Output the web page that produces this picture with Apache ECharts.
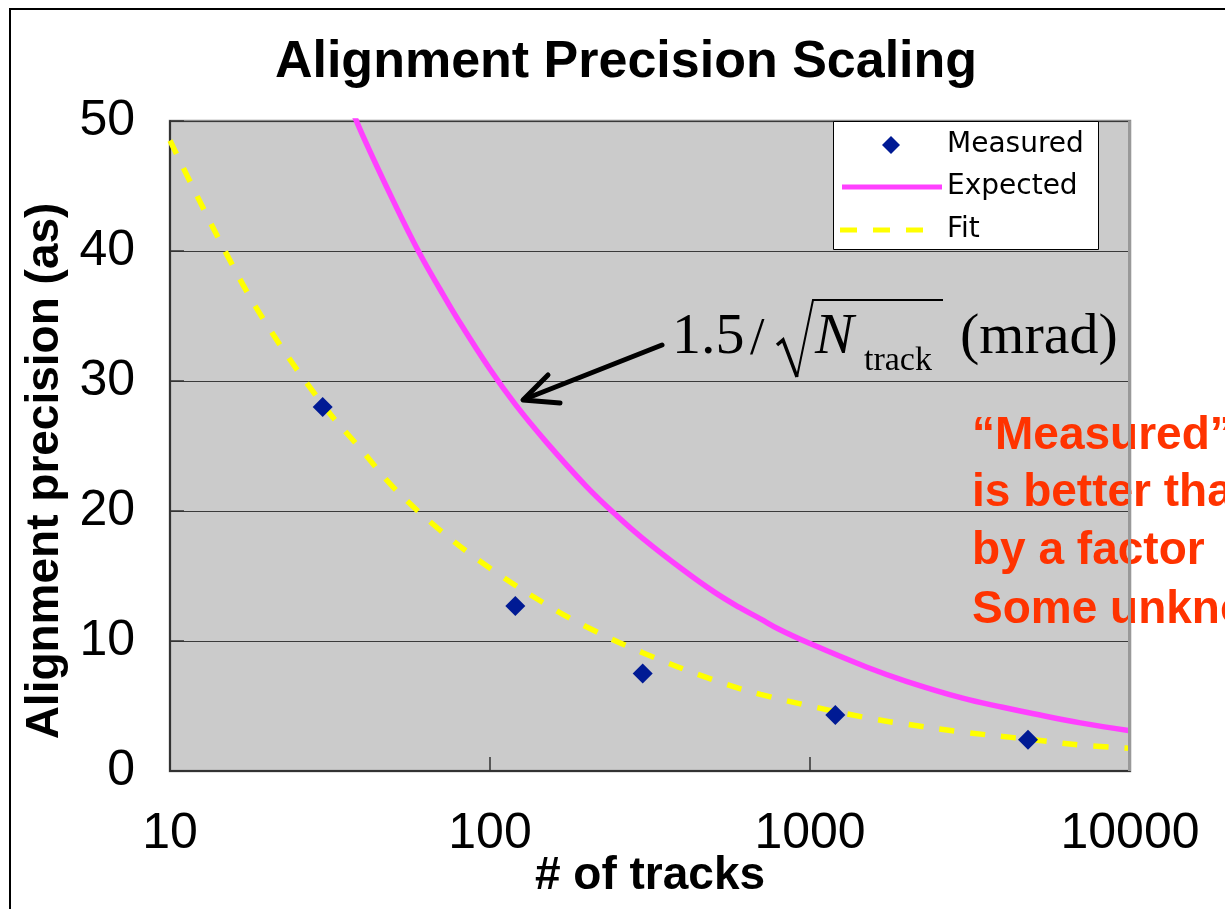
<!DOCTYPE html>
<html>
<head>
<meta charset="utf-8">
<title>Alignment Precision Scaling</title>
<script src="https://cdn.jsdelivr.net/npm/echarts@6/dist/echarts.min.js"></script>
<style>
  html, body { margin: 0; padding: 0; background: #ffffff; }
  #chart { width: 1225px; height: 909px; }
</style>
</head>
<body>
<div id="chart"></div>
<script>
// Measured alignment precision (arcsec) versus number of tracks
const trackCounts = [30, 120, 300, 1200, 4800];
const measuredPrecision = [28.0, 12.7, 7.5, 4.3, 2.4];

// Expected scaling, 1.5 / sqrt(N_track) mrad expressed in arcsec
const expectedTracks = [36, 40, 50, 60, 70, 80, 100, 120, 150, 200, 250, 300, 400, 500, 600, 700, 800, 1000, 1500, 2000, 3000, 4000, 5000, 7000, 10000];
const expectedPrecision = [51.6, 48.9, 43.8, 39.9, 37.0, 34.6, 30.9, 28.2, 25.3, 21.9, 19.6, 17.9, 15.5, 13.8, 12.6, 11.7, 10.9, 9.8, 8.0, 6.9, 5.6, 4.9, 4.4, 3.7, 3.1];

// Power-law fit to the measured points
const fitTracks = [10, 15, 20, 30, 40, 50, 70, 100, 150, 200, 300, 500, 700, 1000, 1500, 2000, 3000, 5000, 7000, 10000];
const fitPrecision = [48.5, 39.8, 34.4, 28.2, 24.6, 21.8, 18.5, 15.6, 12.8, 11.1, 9.1, 7.0, 5.9, 5.0, 4.1, 3.6, 3.0, 2.4, 2.0, 1.75];

// Axis settings
const xTicks = [10, 100, 1000, 10000];
const yMin = 0, yMax = 50, yStep = 10;

const seriesNames = ['Measured', 'Expected', 'Fit'];
const noteLines = ['\u201CMeasured\u201D', 'is better than', 'by a factor', 'Some unknown'];

const colors = { measured: '#001a94', expected: '#ff40ff', fit: '#ffff00' };

const pairs = (xs, ys) => xs.map((x, i) => [x, ys[i]]);

const chart = echarts.init(document.getElementById('chart'), null, { renderer: 'canvas' });

const sans = 'Liberation Sans';
const serif = 'Liberation Serif';

// Legend box (top right corner of the plot)
const legendBox = { x: 833, y: 121, w: 265, h: 128 };
const legendRows = [145, 187, 230];
const legendTextX = 947;

const legendGraphics = [
  {
    type: 'rect', z: 20, silent: true,
    shape: { x: legendBox.x + 0.5, y: legendBox.y + 0.5, width: legendBox.w, height: legendBox.h },
    style: { fill: '#ffffff', stroke: '#000000', lineWidth: 1 }
  },
  {
    type: 'polygon', z: 21, silent: true,
    shape: { points: [[891, legendRows[0] - 9], [900, legendRows[0]], [891, legendRows[0] + 9], [882, legendRows[0]]] },
    style: { fill: colors.measured }
  },
  {
    type: 'line', z: 21, silent: true,
    shape: { x1: 842, y1: legendRows[1], x2: 942, y2: legendRows[1] },
    style: { stroke: colors.expected, lineWidth: 5 }
  },
  {
    type: 'line', z: 21, silent: true,
    shape: { x1: 840, y1: legendRows[2], x2: 924, y2: legendRows[2] },
    style: { stroke: colors.fit, lineWidth: 5, lineDash: [17, 16] }
  },
  ...seriesNames.map((name, i) => ({
    type: 'text', z: 21, silent: true,
    x: legendTextX, y: legendRows[i],
    style: {
      text: name, fontFamily: 'DejaVu Sans', fontSize: 28,
      fill: '#000000', align: 'left', verticalAlign: 'middle'
    }
  }))
];

const option = {
  animation: false,
  backgroundColor: '#ffffff',
  grid: {
    left: 170, top: 121, width: 960, height: 650,
    show: true,
    backgroundColor: '#cbcbcb',
    borderColor: '#8c8c8c',
    borderWidth: 2.5,
    outerBoundsMode: 'none'
  },
  xAxis: {
    type: 'log',
    logBase: 10,
    min: xTicks[0],
    max: xTicks[xTicks.length - 1],
    name: '# of tracks',
    nameLocation: 'middle',
    nameGap: 82,
    nameMoveOverlap: false,
    nameTextStyle: { fontFamily: sans, fontWeight: 'bold', fontSize: 46, color: '#000' },
    axisLine: { show: true, lineStyle: { color: '#333333', width: 2 } },
    axisTick: { show: true, inside: true, length: 14, lineStyle: { color: '#333333', width: 1.5 } },
    minorTick: { show: false },
    splitLine: { show: false },
    axisLabel: {
      margin: 38,
      fontFamily: sans, fontSize: 50, color: '#000',
      formatter: v => String(Math.round(v))
    }
  },
  yAxis: {
    type: 'value',
    min: yMin, max: yMax, interval: yStep,
    name: 'Alignment precision (as)',
    nameLocation: 'middle',
    nameGap: 102,
    nameMoveOverlap: false,
    nameTextStyle: {
      fontFamily: sans, fontWeight: 'bold', fontSize: 46, color: '#000',
      padding: [0, 50, 0, 0]
    },
    axisLine: { show: true, lineStyle: { color: '#333333', width: 2 } },
    axisTick: { show: true, inside: true, length: 14, lineStyle: { color: '#333333', width: 1.5 } },
    splitLine: { show: true, lineStyle: { color: '#3a3a3a', width: 1 } },
    axisLabel: { margin: 35, fontFamily: sans, fontSize: 50, color: '#000' }
  },
  series: [
    {
      name: seriesNames[0],
      type: 'scatter',
      data: pairs(trackCounts, measuredPrecision),
      symbol: 'diamond',
      symbolSize: 20,
      itemStyle: { color: colors.measured, opacity: 1 },
      z: 5
    },
    {
      name: seriesNames[1],
      type: 'line',
      data: pairs(expectedTracks, expectedPrecision),
      symbol: 'none',
      smooth: 0.4,
      clip: true,
      lineStyle: { color: colors.expected, width: 5.5 },
      itemStyle: { color: colors.expected },
      z: 3
    },
    {
      name: seriesNames[2],
      type: 'line',
      data: pairs(fitTracks, fitPrecision),
      symbol: 'none',
      smooth: 0.4,
      clip: true,
      lineStyle: { color: colors.fit, width: 5.5, type: [15, 16] },
      itemStyle: { color: colors.fit },
      z: 3
    }
  ],
  graphic: [
    // outer frame of the figure
    {
      type: 'rect', z: 1, silent: true,
      shape: { x: 10, y: 9, width: 1400, height: 1100 },
      style: { fill: 'none', stroke: '#000000', lineWidth: 2 }
    },
    // title
    {
      type: 'text', z: 10, silent: true,
      x: 626, y: 63,
      style: {
        text: 'Alignment Precision Scaling',
        fontFamily: sans, fontWeight: 'bold', fontSize: 52,
        fill: '#000', align: 'center', verticalAlign: 'middle'
      }
    },
    ...legendGraphics,
    // formula annotation: 1.5 / sqrt(N_track) (mrad)
    {
      type: 'text', z: 10, silent: true, x: 672, y: 338,
      style: { text: '1.5', fontFamily: serif, fontSize: 58, fill: '#000', align: 'left', verticalAlign: 'middle' }
    },
    {
      type: 'text', z: 10, silent: true, x: 750, y: 340,
      style: { text: '/', fontFamily: serif, fontSize: 52, fill: '#000', align: 'left', verticalAlign: 'middle' }
    },
    {
      type: 'polyline', z: 10, silent: true,
      shape: { points: [[777, 345], [783, 340], [797, 377]] },
      style: { stroke: '#000', lineWidth: 3.5, fill: 'none', lineJoin: 'miter' }
    },
    {
      type: 'polyline', z: 10, silent: true,
      shape: { points: [[797, 377], [813, 300], [943, 300]] },
      style: { stroke: '#000', lineWidth: 2, fill: 'none', lineJoin: 'miter' }
    },
    {
      type: 'text', z: 10, silent: true, x: 815, y: 338,
      style: { text: 'N', fontFamily: serif, fontStyle: 'italic', fontSize: 58, fill: '#000', align: 'left', verticalAlign: 'middle' }
    },
    {
      type: 'text', z: 10, silent: true, x: 864, y: 361,
      style: { text: 'track', fontFamily: serif, fontSize: 34, fill: '#000', align: 'left', verticalAlign: 'middle' }
    },
    {
      type: 'text', z: 10, silent: true, x: 960, y: 338,
      style: { text: '(mrad)', fontFamily: serif, fontSize: 58, fill: '#000', align: 'left', verticalAlign: 'middle' }
    },
    // arrow pointing at the expected curve
    {
      type: 'polyline', z: 10, silent: true,
      shape: { points: [[662, 345], [525, 399]] },
      style: { stroke: '#000', lineWidth: 5, lineCap: 'round', fill: 'none' }
    },
    {
      type: 'polyline', z: 10, silent: true,
      shape: { points: [[548, 375], [523, 400], [560, 403]] },
      style: { stroke: '#000', lineWidth: 5, lineCap: 'round', lineJoin: 'round', fill: 'none' }
    },
    // red note on the right
    ...noteLines.map((t, i) => ({
      type: 'text', z: 10, silent: true,
      x: 972, y: [436, 493, 551, 610][i],
      style: {
        text: t, fontFamily: sans, fontWeight: 'bold', fontSize: 46,
        fill: '#ff3300', align: 'left', verticalAlign: 'middle'
      }
    })),
    // right edge of the plot area drawn over the note
    {
      type: 'line', z: 11, silent: true,
      shape: { x1: 1129.5, y1: 121, x2: 1129.5, y2: 771 },
      style: { stroke: '#999999', lineWidth: 3 }
    }
  ]
};

chart.setOption(option);
</script>
</body>
</html>
